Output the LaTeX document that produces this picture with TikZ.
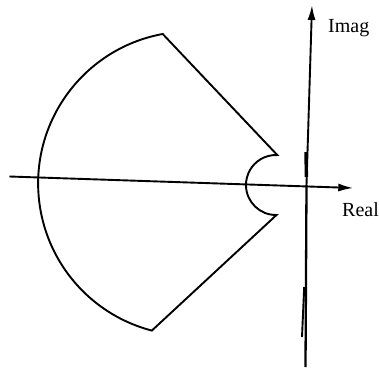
\documentclass[tikz,border=0pt]{standalone}
\usepackage{fontspec}
\setmainfont{Liberation Serif}
\usetikzlibrary{arrows.meta}
\begin{document}
\begin{tikzpicture}[x=1pt,y=1pt,
  contour/.style={line width=1.9pt, line join=miter},
  axis/.style={line width=1.9pt},
  axisarrow/.style={axis, -{Latex[length=15pt,width=8pt]}},
  lbl/.style={inner sep=0pt, anchor=base west, font=\fontsize{20}{24}\selectfont}]
\useasboundingbox (0,0) rectangle (379,369);
% named points
\coordinate (T) at (162.7,335);
\coordinate (L) at (276.5,154);
\coordinate (rs) at (9.3,192.5);
\coordinate (re) at (353.3,181);
\coordinate (ib) at (305.5,2);
\coordinate (ik) at (306.5,184);
\coordinate (it) at (312,364);
\coordinate (th1) at (306,217);
\coordinate (th2) at (306.4,192);
\coordinate (s1) at (304.2,82);
\coordinate (s2) at (302,32);
% contour
\draw[contour] (T) arc[start angle=100.4, end angle=255.4, radius=152]
  -- (L) arc[start angle=-89, end angle=-272.5, radius=30] -- cycle;
% axes
\draw[axisarrow] (rs) -- (re);
\draw[line width=2.3pt] (ib) -- (ik);
\draw[axisarrow] (ik) -- (it);
\draw[line width=3.4pt] (th1) -- (th2);
\draw[line width=1.9pt] (s1) -- (s2);
% labels
\node[lbl] (imag) at (328,336.5) {Imag};
\node[lbl] (real) at (342,152) {Real};
\end{tikzpicture}
\end{document}
